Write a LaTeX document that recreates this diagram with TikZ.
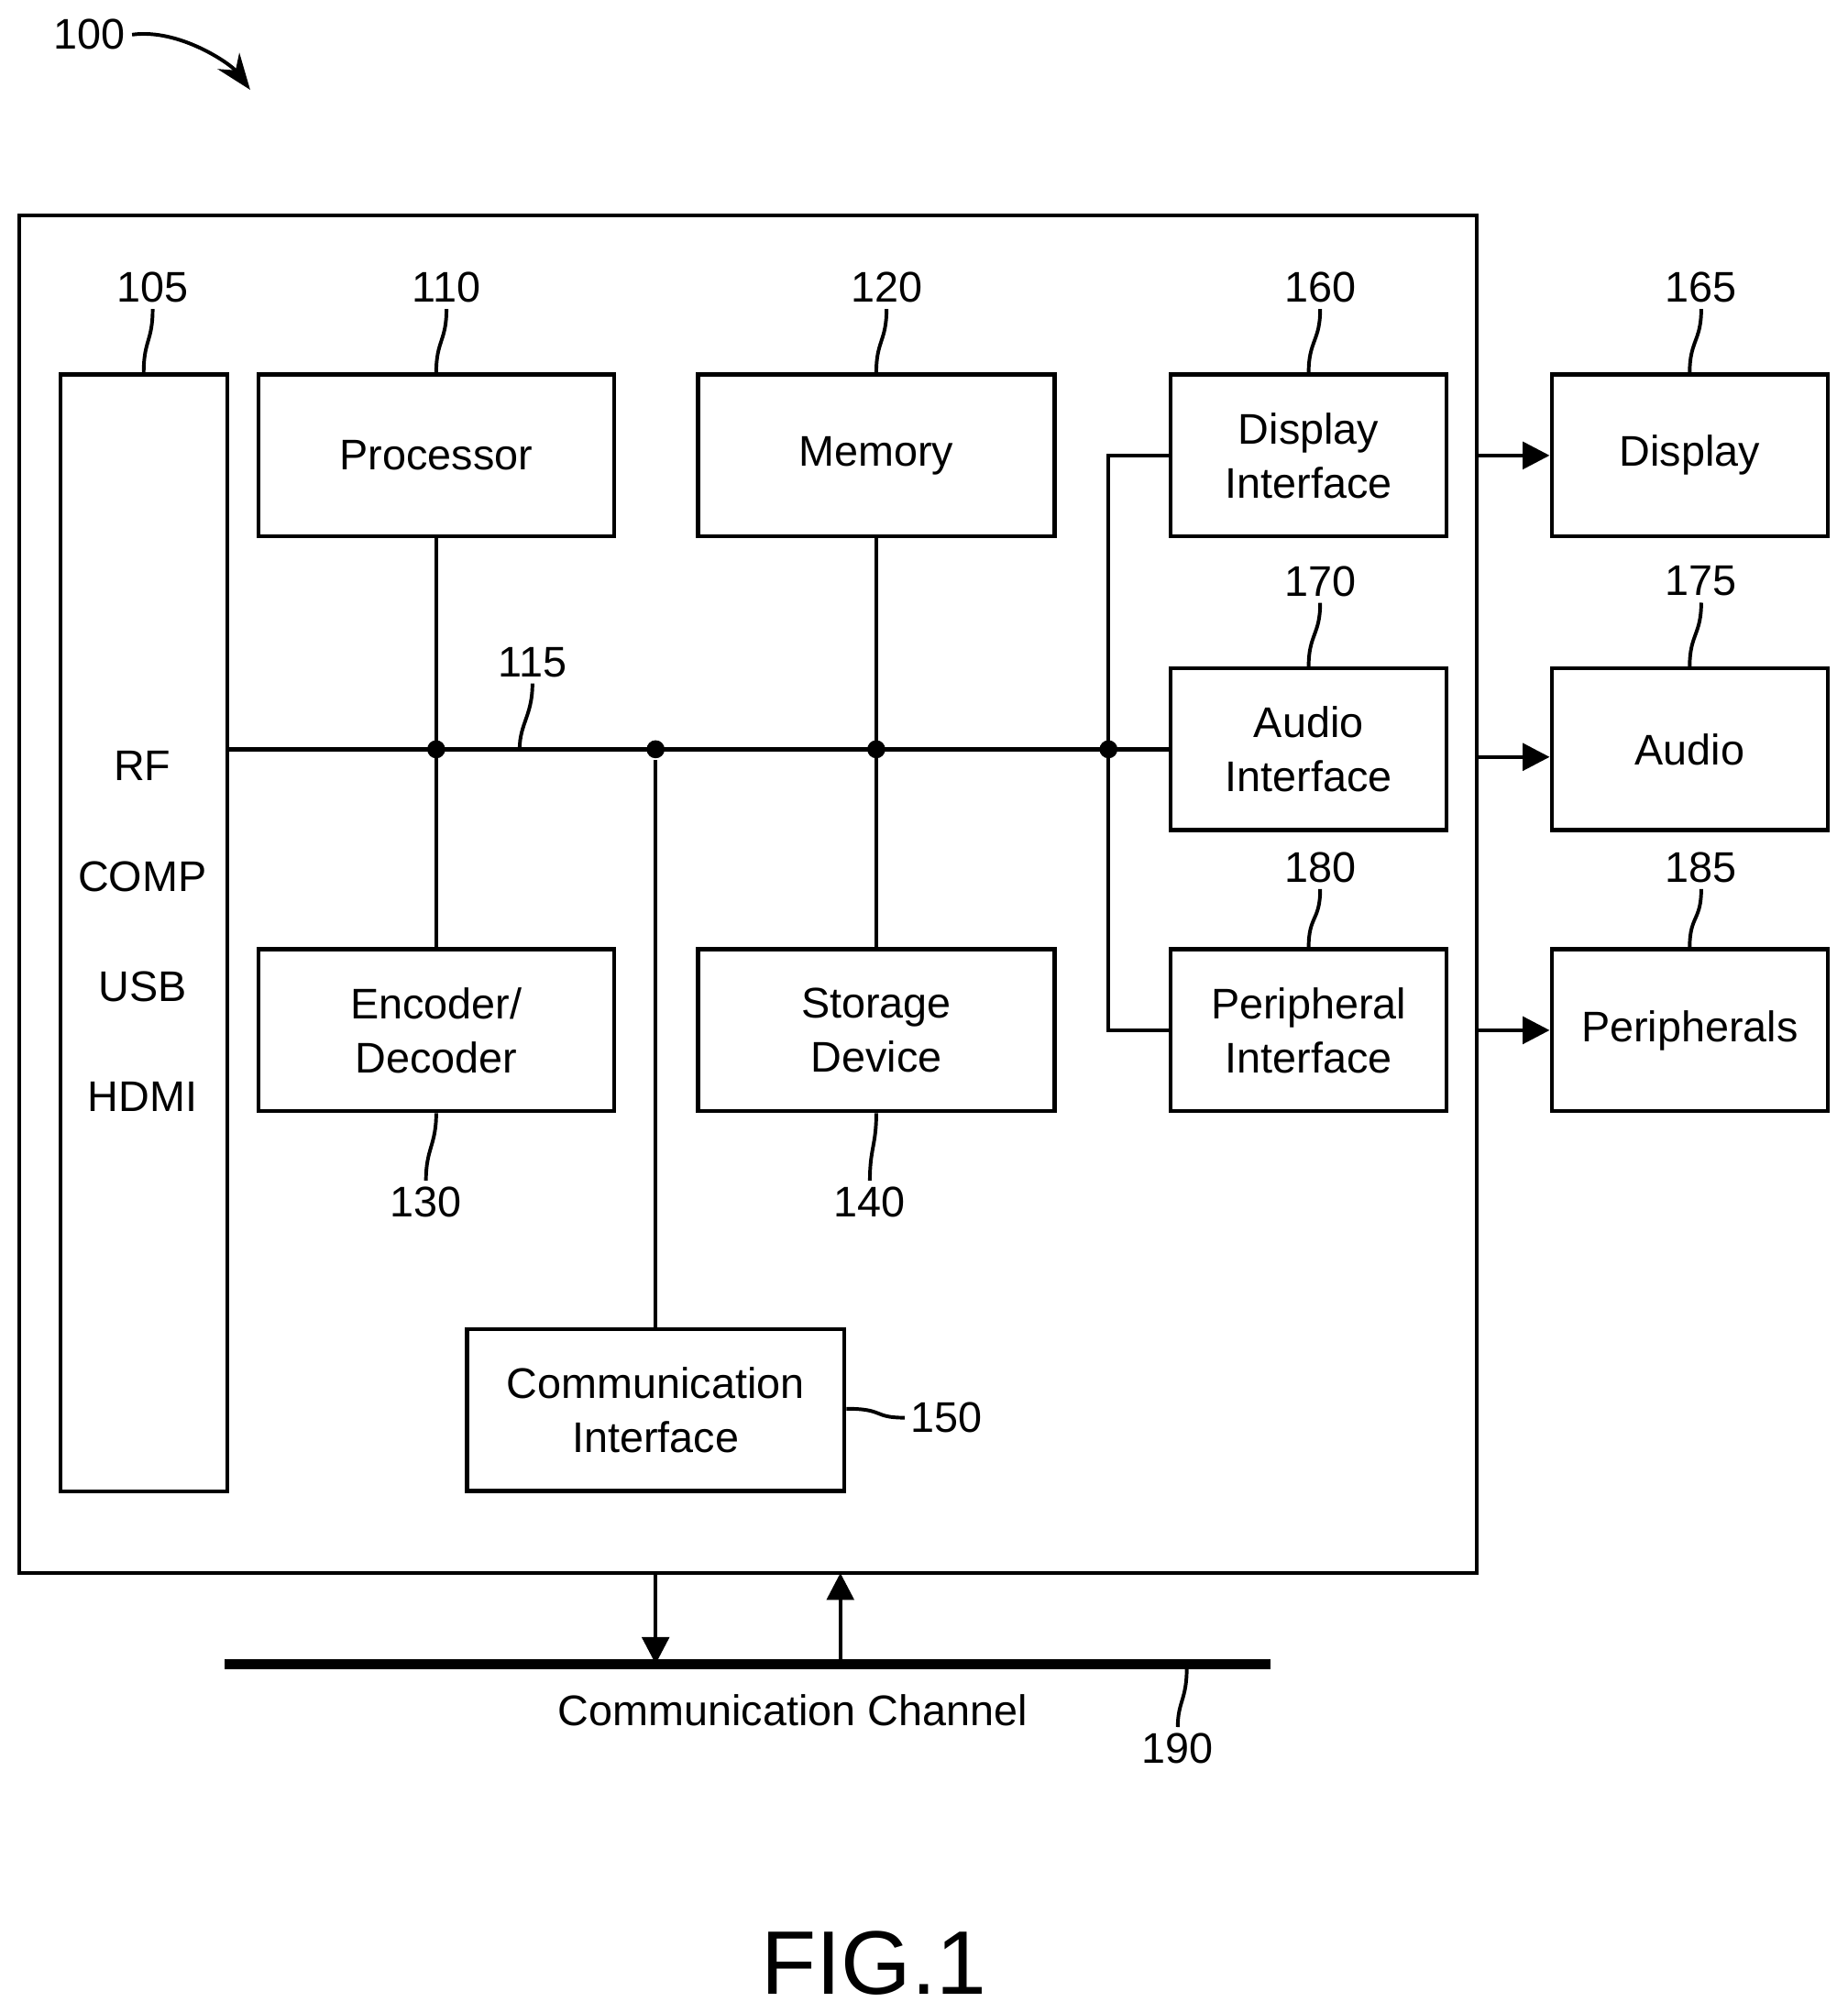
\documentclass[tikz,border=0pt]{standalone}
\usepackage{fontspec}
\setmainfont{Liberation Sans}
\usetikzlibrary{arrows.meta}
\begin{document}
\begin{tikzpicture}[x=0.01cm, y=-0.01cm, line width=0.9pt,
  every node/.style={font=\fontsize{9.5}{12}\selectfont},
  block/.style={draw, align=center, inner sep=0pt},
  num/.style={inner sep=1pt},
  lead/.style={line width=0.8pt},
  dot/.style={circle, fill, inner sep=0pt, minimum size=4pt},
  arr/.style={-{Triangle[length=6pt,width=6pt]}}]
  \useasboundingbox (0,0) rectangle (1440,1569);
  % outer frame
  \draw (15,168) rectangle (1151,1226);
  % blocks
  \node[block, minimum width=1.30cm, minimum height=8.70cm] (rf) at (112,727) {};
  \node at (111,597) {RF};
  \node at (111,683) {COMP};
  \node at (111,769) {USB};
  \node at (111,855) {HDMI};
  \node[block, minimum width=2.77cm, minimum height=1.26cm] (proc) at (340,355) {Processor};
  \node[block, minimum width=2.78cm, minimum height=1.26cm] (mem) at (683,355) {Memory};
  \node[block, minimum width=2.15cm, minimum height=1.26cm] (dispif) at (1020,355) {Display\\Interface};
  \node[block, minimum width=2.15cm, minimum height=1.26cm] (disp) at (1317,355) {Display};
  \node[block, minimum width=2.15cm, minimum height=1.26cm] (audif) at (1020,584) {Audio\\Interface};
  \node[block, minimum width=2.15cm, minimum height=1.26cm] (aud) at (1317,584) {Audio};
  \node[block, minimum width=2.77cm, minimum height=1.26cm] (enc) at (340,803) {Encoder/\\Decoder};
  \node[block, minimum width=2.78cm, minimum height=1.26cm] (stor) at (683,803) {Storage\\Device};
  \node[block, minimum width=2.15cm, minimum height=1.26cm] (perif) at (1020,803) {Peripheral\\Interface};
  \node[block, minimum width=2.15cm, minimum height=1.26cm] (per) at (1317,803) {Peripherals};
  \node[block, minimum width=2.94cm, minimum height=1.26cm] (comm) at (511,1099) {Communication\\Interface};
  % bus
  \coordinate (busR) at (864,584);
  \node[dot] (d1) at (340,584) {};
  \node[dot] (d2) at (511,584) {};
  \node[dot] (d3) at (683,584) {};
  \node[dot] (d4) at (busR) {};
  \draw (rf.east |- d1) -- (audif.west);
  \draw (proc) -- (enc);
  \draw (mem) -- (stor);
  \draw (d2) -- (comm);
  \draw (dispif.west) -| (busR) |- (perif.west);
  \draw[arr] (1151,355) -- (disp.west);
  \draw[arr] (1151,590) -- (aud.west |- 0,590);
  \draw[arr] (1151,803) -- (per.west);
  % channel
  \coordinate (chL) at (175,1297);
  \coordinate (chR) at (990,1297);
  \draw[line width=2.2pt] (chL) -- (chR);
  \draw[arr] (511,1226) -- (511,1297);
  \draw[arr] (655,1297) -- (655,1226);
  \node (chan) at (618,1333) {Communication Channel};
  % reference numerals
  \node[num] (n105) at (119,224) {105};
  \node[num] (n110) at (348,224) {110};
  \node[num] (n120) at (691,224) {120};
  \node[num] (n160) at (1029,224) {160};
  \node[num] (n165) at (1326,224) {165};
  \node[num] (n170) at (1029,453) {170};
  \node[num] (n175) at (1326,453) {175};
  \node[num] (n180) at (1029,676) {180};
  \node[num] (n185) at (1326,676) {185};
  \foreach \n/\b in {105/rf,110/proc,120/mem,160/dispif,165/disp,170/audif,175/aud,180/perif,185/per}
    \draw[lead] (n\n.south) .. controls +(0,25) and +(0,-25) .. (\b.north);
  \node[num] (n115) at (415,516) {115};
  \draw[lead] (n115.south) .. controls +(0,25) and +(0,-20) .. (405,584);
  \node[num] (n130) at (332,937) {130};
  \draw[lead] (n130.north) .. controls +(0,-25) and +(0,25) .. (enc.south);
  \node[num] (n140) at (678,937) {140};
  \draw[lead] (n140.north) .. controls +(0,-25) and +(0,25) .. (stor.south);
  \node[num] (n150) at (738,1105) {150};
  \draw[lead] (comm.east |- 0,1098) .. controls +(30,0) and +(-25,0) .. (n150.west);
  \node[num] (n190) at (918,1363) {190};
  \draw[lead] (925,1300) .. controls +(0,25) and +(0,-20) .. (n190.north);
  \node[num] (n100) at (70,27) {100};
  \draw[lead, -{Stealth[length=8pt]}] (n100.east) .. controls (140,22) and (180,50) .. (195,70);
  \node (fig) at (681,1530) {\fontsize{20}{24}\selectfont FIG.1};
\end{tikzpicture}
\end{document}
